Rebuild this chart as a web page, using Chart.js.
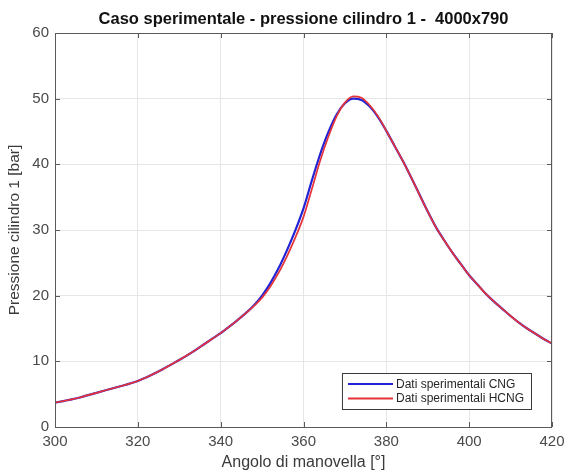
<!DOCTYPE html>
<html>
<head>
<meta charset="utf-8">
<script src="https://cdn.jsdelivr.net/npm/chart.js@4"></script>
<style>
  html, body { margin: 0; padding: 0; background: #fff; }
  #wrap { width: 569px; height: 475px; }
</style>
</head>
<body>
<div id="wrap"><canvas id="chart" width="569" height="475"></canvas></div>
<script>
// crank angle [deg]
const angles = [300, 302, 304, 306, 308, 310, 312, 314, 316, 318,
    320, 322, 324, 326, 328, 330, 332, 334, 336, 338,
    340, 342, 344, 346, 348, 350, 352, 354, 356, 358,
    360, 362, 364, 366, 368, 370, 372, 374, 376, 378,
    380, 382, 384, 386, 388, 390, 392, 394, 396, 398,
    400, 402, 404, 406, 408, 410, 412, 414, 416, 418, 420];

// cylinder 1 pressure [bar]
const pressCNG = [3.7, 3.95, 4.2, 4.5, 4.85, 5.2, 5.55, 5.9, 6.25, 6.6,
    7.0, 7.55, 8.15, 8.8, 9.5, 10.2, 10.95, 11.75, 12.6, 13.45,
    14.3, 15.25, 16.25, 17.3, 18.5, 20.0, 21.9, 24.2, 26.9, 29.9,
    33.3, 37.5, 41.5, 44.9, 47.6, 49.3, 50.0, 49.8, 48.8, 47.2,
    45.1, 42.8, 40.5, 38.0, 35.4, 32.8, 30.4, 28.4, 26.5, 24.8,
    23.1, 21.7, 20.3, 19.1, 18.0, 16.9, 15.9, 15.0, 14.2, 13.4, 12.7];

const pressHCNG = [3.7, 3.95, 4.2, 4.5, 4.85, 5.2, 5.55, 5.9, 6.25, 6.6,
    7.0, 7.55, 8.15, 8.8, 9.5, 10.2, 10.95, 11.75, 12.6, 13.45,
    14.3, 15.25, 16.25, 17.3, 18.4, 19.7, 21.4, 23.5, 26.0, 28.8,
    32.0, 36.2, 40.5, 44.2, 47.3, 49.4, 50.35, 50.15, 49.0, 47.3,
    45.1, 42.8, 40.5, 38.0, 35.4, 32.8, 30.4, 28.4, 26.5, 24.8,
    23.1, 21.7, 20.3, 19.1, 18.0, 16.9, 15.9, 15.0, 14.2, 13.4, 12.7];

const xTicks = [300, 320, 340, 360, 380, 400, 420];
const yTicks = [0, 10, 20, 30, 40, 50, 60];

const FONT = "'Liberation Sans', Arial, Helvetica, sans-serif";

// matlab-like box, inward ticks and legend in the lower right corner
const axesBox = {
    id: 'axesBox',
    afterDatasetsDraw(chart) {
        const {ctx, chartArea: a, scales} = chart;
        ctx.save();
        ctx.strokeStyle = '#5a5a5a';
        ctx.lineWidth = 1;
        ctx.strokeRect(a.left + 0.5, a.top + 0.5, a.right - a.left - 1, a.bottom - a.top);
        ctx.beginPath();
        xTicks.forEach(v => {
            const px = Math.round(scales.x.getPixelForValue(v)) + 0.5;
            ctx.moveTo(px, a.bottom); ctx.lineTo(px, a.bottom - 5);
            ctx.moveTo(px, a.top); ctx.lineTo(px, a.top + 5);
        });
        yTicks.forEach(v => {
            const py = Math.round(scales.y.getPixelForValue(v)) + 0.5;
            ctx.moveTo(a.left, py); ctx.lineTo(a.left + 5, py);
            ctx.moveTo(a.right, py); ctx.lineTo(a.right - 5, py);
        });
        ctx.stroke();

        // legend
        const ds = chart.data.datasets;
        ctx.font = '12px ' + FONT;
        const textW = Math.max(...ds.map(d => ctx.measureText(d.label).width));
        const w = 54 + textW + 7;
        const h = 36;
        const bx = a.right - 21 - w;
        const by = a.bottom - 18 - h;
        ctx.fillStyle = '#fff';
        ctx.fillRect(bx, by, w, h);
        ctx.strokeStyle = '#3a3a3a';
        ctx.strokeRect(bx + 0.5, by + 0.5, w, h);
        ds.forEach((d, i) => {
            const ly = by + 11 + i * 14.5;
            ctx.strokeStyle = d.borderColor;
            ctx.lineWidth = 2;
            ctx.beginPath();
            ctx.moveTo(bx + 6, ly); ctx.lineTo(bx + 51, ly);
            ctx.stroke();
            ctx.fillStyle = '#262626';
            ctx.textBaseline = 'middle';
            ctx.fillText(d.label, bx + 54, ly + 0.5);
        });
        ctx.restore();
    }
};

new Chart(document.getElementById('chart'), {
    type: 'line',
    data: {
        datasets: [{
            label: 'Dati sperimentali CNG',
            data: angles.map((a, i) => ({x: a, y: pressCNG[i]})),
            borderColor: '#2323d6',
            borderWidth: 2.2,
            pointRadius: 0,
            cubicInterpolationMode: 'monotone',
            order: 2
        }, {
            label: 'Dati sperimentali HCNG',
            data: angles.map((a, i) => ({x: a, y: pressHCNG[i]})),
            borderColor: '#e53339',
            borderWidth: 1.7,
            pointRadius: 0,
            cubicInterpolationMode: 'monotone',
            order: 1
        }]
    },
    options: {
        responsive: false,
        animation: false,
        layout: {autoPadding: false, padding: {left: 0, right: 17, top: 0, bottom: 0}},
        plugins: {
            legend: {display: false},
            tooltip: {enabled: false},
            title: {
                display: true,
                fullSize: false,
                text: 'Caso sperimentale - pressione cilindro 1 -  4000x790',
                color: '#111',
                font: {family: FONT, size: 16.5, weight: 'bold'},
                padding: {top: 10, bottom: 3.2}
            }
        },
        scales: {
            x: {
                type: 'linear',
                min: 300,
                max: 420,
                afterFit: (s) => { s.height = 48; s.paddingLeft = 0; s.paddingRight = 0; },
                afterBuildTicks: (s) => { s.ticks = xTicks.map(v => ({value: v})); },
                ticks: {color: '#4a4a4a', font: {family: FONT, size: 15}, padding: 6, maxRotation: 0},
                grid: {color: '#e6e6e6', drawTicks: false},
                border: {display: false},
                title: {
                    display: true,
                    text: 'Angolo di manovella [°]',
                    color: '#3a3a3a',
                    font: {family: FONT, size: 16},
                    padding: {top: 0, bottom: 3}
                }
            },
            y: {
                min: 0,
                max: 60,
                afterFit: (s) => { s.width = 55; s.paddingTop = 0; s.paddingBottom = 0; },
                afterBuildTicks: (s) => { s.ticks = yTicks.map(v => ({value: v})); },
                ticks: {color: '#4a4a4a', font: {family: FONT, size: 15}, padding: 6},
                grid: {color: '#e6e6e6', drawTicks: false},
                border: {display: false},
                title: {
                    display: true,
                    text: 'Pressione cilindro 1 [bar]',
                    color: '#3a3a3a',
                    font: {family: FONT, size: 15.5},
                    padding: {top: 5, bottom: 0}
                }
            }
        }
    },
    plugins: [axesBox]
});
</script>
</body>
</html>
